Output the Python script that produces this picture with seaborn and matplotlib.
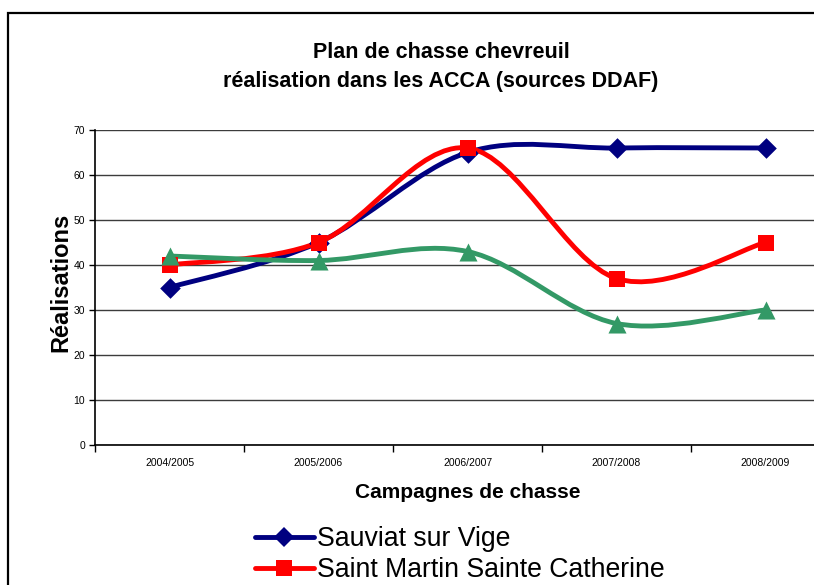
import matplotlib
matplotlib.use('Agg')
import matplotlib.pyplot as plt
import seaborn as sns
import pandas as pd
import numpy as np
from matplotlib.path import Path
from matplotlib.patches import PathPatch, Rectangle
from matplotlib.lines import Line2D

# data
seasons = ['2004/2005', '2005/2006', '2006/2007', '2007/2008', '2008/2009']
sauviat = [35, 45, 65, 66, 66]
saint_martin = [40, 45, 66, 37, 45]
third_acca = [42, 41, 43, 27, 30]

series_names = ['Sauviat sur Vige', 'Saint Martin Sainte Catherine', 'ACCA 3']
series_values = [sauviat, saint_martin, third_acca]
colors = ['#000080', '#FF0000', '#339966']
markers = ['D', 's', '^']
marker_sizes = [10.5, 12, 13]
y_ticks = [0, 10, 20, 30, 40, 50, 60, 70]

sns.set_style('white')
plt.rcParams['font.family'] = ['Liberation Sans', 'DejaVu Sans']
plt.rcParams['text.color'] = 'black'
plt.rcParams['axes.labelcolor'] = 'black'
plt.rcParams['xtick.color'] = 'black'
plt.rcParams['ytick.color'] = 'black'

fig = plt.figure(figsize=(8.14, 5.85), dpi=100)
ax = fig.add_axes([95 / 814, 1 - 445 / 585, 745 / 814, 315 / 585])


def smooth_path(xs, ys):
    # Excel-like smoothed line: cubic Bezier segments (Catmull-Rom tangents)
    pts = np.column_stack([xs, ys]).astype(float)
    n = len(pts)
    verts = [pts[0]]
    codes = [Path.MOVETO]
    for i in range(n - 1):
        p0 = pts[i - 1] if i > 0 else pts[i]
        p1 = pts[i]
        p2 = pts[i + 1]
        p3 = pts[i + 2] if i + 2 < n else pts[i + 1]
        c1 = p1 + (p2 - p0) / 6.0
        c2 = p2 - (p3 - p1) / 6.0
        verts += [c1, c2, p2]
        codes += [Path.CURVE4] * 3
    return Path(verts, codes)


x_pos = np.arange(len(seasons))
for name, vals, col, mk, ms in zip(series_names, series_values, colors, markers, marker_sizes):
    ax.add_patch(PathPatch(smooth_path(x_pos, vals), facecolor='none',
                           edgecolor=col, lw=3.5, capstyle='round', zorder=3))
    df = pd.DataFrame({'x': x_pos, 'y': vals})
    sns.scatterplot(data=df, x='x', y='y', marker=mk, s=ms ** 2, color=col,
                    edgecolor=col, linewidth=0, ax=ax, zorder=4, legend=False)

ax.set_xlim(-0.5, len(seasons) - 0.5)
ax.set_ylim(0, 70)
ax.set_yticks(y_ticks)
ax.yaxis.grid(True, color='#3c3c3c', lw=1.0)
ax.xaxis.grid(False)
ax.set_axisbelow(True)

ax.set_xticks(x_pos)
ax.set_xticklabels(seasons, fontsize=7.5)
ax.set_xticks(np.arange(len(seasons) + 1) - 0.5, minor=True)
ax.tick_params(axis='x', which='major', length=0, pad=9)
ax.tick_params(axis='x', which='minor', length=5, width=1, color='black', direction='out', bottom=True)
ax.tick_params(axis='y', length=4, width=1, color='black', direction='out', left=True, labelsize=7.5, pad=3)

for side in ['top', 'right']:
    ax.spines[side].set_visible(False)
for side in ['left', 'bottom']:
    ax.spines[side].set_color('black')
    ax.spines[side].set_linewidth(1.2)

ax.set_xlabel('Campagnes de chasse', fontsize=15, fontweight='bold', labelpad=11)
ax.set_ylabel('Réalisations', fontsize=17, fontweight='bold')
ax.yaxis.set_label_coords(-0.031, 0.516)

fig.text(441 / 814, 1 - 52 / 585, 'Plan de chasse chevreuil', ha='center', va='center',
         fontsize=15.5, fontweight='bold')
fig.text(441 / 814, 1 - 82 / 585, 'réalisation dans les ACCA (sources DDAF)', ha='center',
         va='center', fontsize=15.5, fontweight='bold')

handles = [Line2D([0], [0], color=c, lw=3.5, marker=m, markersize=s, markeredgewidth=0)
           for c, m, s in zip(colors[:2], markers[:2], marker_sizes[:2])]
fig.legend(handles, series_names[:2], loc='upper left', bbox_to_anchor=(255 / 814, 1 - 526 / 585),
           frameon=False, fontsize=19.2, handlelength=2.2, handletextpad=0.12,
           labelspacing=0.2, borderaxespad=0, borderpad=0)

# chart border (cropped on right and bottom)
fig.patches.append(Rectangle((8 / 814, -0.1), 1.2, 0.1 + 1 - 13 / 585, transform=fig.transFigure,
                             facecolor='none', edgecolor='black', lw=1.6, zorder=0))

fig.savefig('out.png', dpi=100)
